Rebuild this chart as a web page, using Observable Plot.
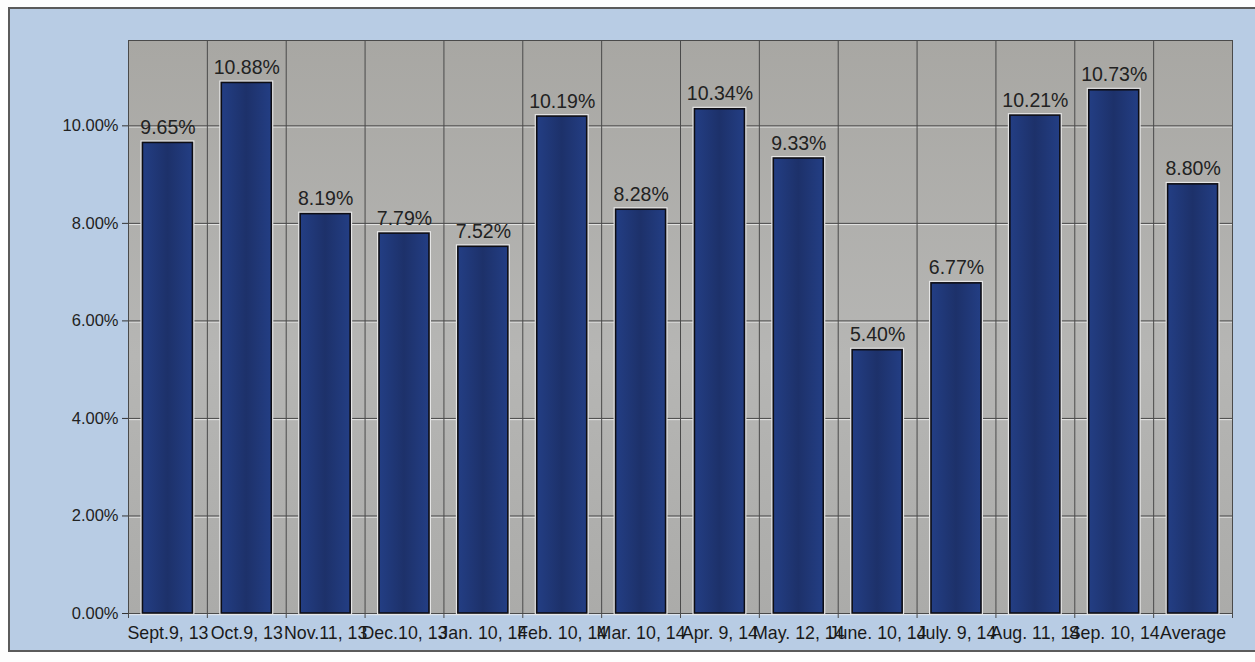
<!DOCTYPE html>
<html>
<head>
<meta charset="utf-8">
<script src="https://cdn.jsdelivr.net/npm/d3@7"></script>
<script src="https://cdn.jsdelivr.net/npm/@observablehq/plot@0.6"></script>
<style>
  html, body { margin: 0; padding: 0; background: #fdfdfd; overflow: hidden; }
  #frame { position: absolute; left: 8px; top: 7px; width: 1260px; height: 641px;
           border: 2px solid #5a5a5a; background: #b8cce4; }
  #chart { position: absolute; left: 0; top: 0; }
  svg { font-family: "Liberation Sans", Arial, sans-serif; }
</style>
</head>
<body>
<div id="frame"></div>
<div id="chart"></div>
<script>
const categories = ["Sept.9, 13", "Oct.9, 13", "Nov.11, 13", "Dec.10, 13", "Jan. 10, 14", "Feb. 10, 14", "Mar. 10, 14", "Apr. 9, 14", "May. 12, 14", "June. 10, 14", "July. 9, 14", "Aug. 11, 14", "Sep. 10, 14", "Average"];
const values = [9.65, 10.88, 8.19, 7.79, 7.52, 10.19, 8.28, 10.34, 9.33, 5.40, 6.77, 10.21, 10.73, 8.80];
const yTicks = [0, 2, 4, 6, 8, 10];

const data = categories.map((c, i) => ({cat: c, v: values[i]}));

const W = 1255, H = 662, mL = 128, mR = 23, mT = 40, mB = 49;
const padIn = 0.366, padOut = 0.183;
const step = (W - mL - mR) / (categories.length - padIn + 2 * padOut);

const defs = () => {
  const d = d3.create("svg:defs");
  const g = d.append("linearGradient").attr("id", "bg").attr("x1", 0).attr("y1", 0).attr("x2", 0).attr("y2", 1);
  g.append("stop").attr("offset", "0%").attr("stop-color", "#a8a7a3");
  g.append("stop").attr("offset", "55%").attr("stop-color", "#b6b6b4");
  g.append("stop").attr("offset", "100%").attr("stop-color", "#ababa9");
  const b = d.append("linearGradient").attr("id", "barfill").attr("x1", 0).attr("y1", 0).attr("x2", 1).attr("y2", 0);
  b.append("stop").attr("offset", "0%").attr("stop-color", "#233e84");
  b.append("stop").attr("offset", "50%").attr("stop-color", "#1d316a");
  b.append("stop").attr("offset", "100%").attr("stop-color", "#233e84");
  return d.node();
};

const chart = Plot.plot({
  width: W, height: H,
  marginLeft: mL, marginRight: mR, marginTop: mT, marginBottom: mB,
  style: {background: "transparent", fontFamily: "Liberation Sans, Arial, sans-serif"},
  x: {domain: categories, paddingInner: padIn, paddingOuter: padOut, round: false, label: null},
  y: {domain: [0, 11.75], label: null},
  marks: [
    defs,
    Plot.frame({fill: "url(#bg)"}),
    Plot.ruleY(yTicks, {y: d => d, stroke: "#f2f2f2", strokeOpacity: 0.8, dy: 1.2}),
    Plot.ruleY(yTicks, {y: d => d, stroke: "#4a4a4a", strokeWidth: 1}),
    Plot.ruleX(categories, {x: d => d, dx: step / 2, stroke: "#4a4a4a", strokeWidth: 1, insetBottom: -5}),
    Plot.ruleX(categories.slice(0, 1), {x: d => d, dx: -step / 2, stroke: "#4a4a4a", strokeWidth: 1, insetBottom: -5}),
    Plot.frame({stroke: "#4a4a4a"}),
    Plot.barY(data, {x: "cat", y: "v", fill: "none", stroke: "#e6e6e6", strokeWidth: 4}),
    Plot.barY(data, {x: "cat", y: "v", fill: "url(#barfill)", stroke: "#0d0d14", strokeWidth: 1.6}),
    Plot.text(data, {x: "cat", y: "v", text: d => d.v.toFixed(2) + "%", lineAnchor: "bottom", dy: -9, fontSize: 19.5, fill: "#222"}),
    Plot.axisY(yTicks, {tickSize: 6, tickPadding: 4, tickFormat: d => d.toFixed(2) + "%", fontSize: 16.5, stroke: "#333", fill: "#222"}),
    Plot.axisX({tickSize: 0, tickPadding: 13, fontSize: 17.8, fill: "#1a1a1a"})
  ]
});
document.getElementById("chart").appendChild(chart);
</script>
</body>
</html>
